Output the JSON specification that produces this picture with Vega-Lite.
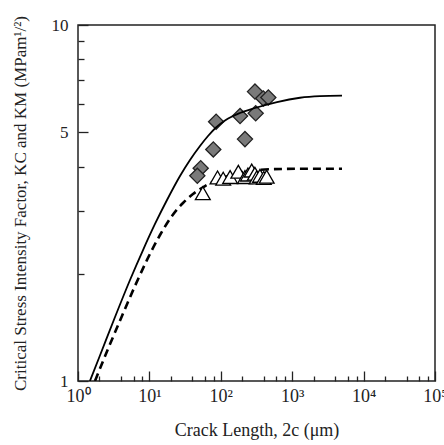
{
  "$schema": "https://vega.github.io/schema/vega-lite/v6.json",
  "autosize": {"type": "none"},
  "padding": {"left": 78, "top": 25, "right": 9, "bottom": 64},
  "width": 357,
  "height": 356,
  "background": "white",
  "config": {
    "view": {"stroke": "#222", "strokeWidth": 1.5},
    "font": "Liberation Serif"
  },
  "datasets": {
    "curves": [
      {"curve": "KC", "x": 1.47, "y": 1.0},
      {"curve": "KC", "x": 2.03, "y": 1.179},
      {"curve": "KC", "x": 3.3, "y": 1.513},
      {"curve": "KC", "x": 5.35, "y": 1.922},
      {"curve": "KC", "x": 8.14, "y": 2.333},
      {"curve": "KC", "x": 11.98, "y": 2.761},
      {"curve": "KC", "x": 17.64, "y": 3.224},
      {"curve": "KC", "x": 26.83, "y": 3.766},
      {"curve": "KC", "x": 37.04, "y": 4.176},
      {"curve": "KC", "x": 51.12, "y": 4.572},
      {"curve": "KC", "x": 66.2, "y": 4.878},
      {"curve": "KC", "x": 85.7, "y": 5.153},
      {"curve": "KC", "x": 114.5, "y": 5.391},
      {"curve": "KC", "x": 185.7, "y": 5.659},
      {"curve": "KC", "x": 301.3, "y": 5.846},
      {"curve": "KC", "x": 612.7, "y": 6.077},
      {"curve": "KC", "x": 1286, "y": 6.246},
      {"curve": "KC", "x": 2452, "y": 6.31},
      {"curve": "KC", "x": 4983, "y": 6.33},
      {"curve": "KM", "x": 1.73, "y": 1.0},
      {"curve": "KM", "x": 2.63, "y": 1.23},
      {"curve": "KM", "x": 4.13, "y": 1.523},
      {"curve": "KM", "x": 6.28, "y": 1.849},
      {"curve": "KM", "x": 9.26, "y": 2.188},
      {"curve": "KM", "x": 14.08, "y": 2.571},
      {"curve": "KM", "x": 20.72, "y": 2.908},
      {"curve": "KM", "x": 29.55, "y": 3.162},
      {"curve": "KM", "x": 40.8, "y": 3.352},
      {"curve": "KM", "x": 60.1, "y": 3.529},
      {"curve": "KM", "x": 97.5, "y": 3.694},
      {"curve": "KM", "x": 158.1, "y": 3.815},
      {"curve": "KM", "x": 256.5, "y": 3.89},
      {"curve": "KM", "x": 488.8, "y": 3.933},
      {"curve": "KM", "x": 1286, "y": 3.946},
      {"curve": "KM", "x": 4983, "y": 3.948}
    ],
    "points": [
      {"kind": "KC", "x": 301, "y": 6.5},
      {"kind": "KC", "x": 394, "y": 6.22},
      {"kind": "KC", "x": 463, "y": 6.26},
      {"kind": "KC", "x": 186, "y": 5.55},
      {"kind": "KC", "x": 308, "y": 5.65},
      {"kind": "KC", "x": 86, "y": 5.35},
      {"kind": "KC", "x": 218, "y": 4.78},
      {"kind": "KC", "x": 78.5, "y": 4.47},
      {"kind": "KC", "x": 52.3, "y": 3.96},
      {"kind": "KC", "x": 46.9, "y": 3.77},
      {"kind": "KM", "x": 56, "y": 3.37},
      {"kind": "KM", "x": 90, "y": 3.73},
      {"kind": "KM", "x": 108, "y": 3.7},
      {"kind": "KM", "x": 135, "y": 3.74},
      {"kind": "KM", "x": 176, "y": 3.87},
      {"kind": "KM", "x": 218, "y": 3.74},
      {"kind": "KM", "x": 240, "y": 3.8},
      {"kind": "KM", "x": 271, "y": 3.9},
      {"kind": "KM", "x": 300, "y": 3.82},
      {"kind": "KM", "x": 318, "y": 3.73},
      {"kind": "KM", "x": 354, "y": 3.77},
      {"kind": "KM", "x": 400, "y": 3.72},
      {"kind": "KM", "x": 439, "y": 3.75}
    ]
  },
  "layer": [
    {
      "data": {"name": "curves"},
      "transform": [{"filter": "datum.curve == 'KM'"}],
      "mark": {"type": "line", "color": "black", "strokeWidth": 2.6, "strokeDash": [8, 5], "clip": true, "interpolate": "monotone"},
      "encoding": {
        "x": {
          "field": "x", "type": "quantitative",
          "scale": {"type": "log", "domain": [1, 100000], "nice": false},
          "axis": {
            "title": "Crack Length, 2c (μm)",
            "titleFont": "Liberation Serif", "titleFontSize": 18, "titleFontWeight": "normal", "titleColor": "#222",
            "titlePadding": 11,
            "values": [1, 2, 4, 6, 8, 10, 20, 40, 60, 80, 100, 200, 400, 600, 800, 1000, 2000, 4000, 6000, 8000, 10000, 20000, 40000, 60000, 80000, 100000],
            "labelExpr": "datum.value == 1 ? '10⁰' : datum.value == 10 ? '10¹' : datum.value == 100 ? '10²' : datum.value == 1000 ? '10³' : datum.value == 10000 ? '10⁴' : datum.value == 100000 ? '10⁵' : ''",
            "labelFont": "Liberation Serif", "labelFontSize": 18, "labelColor": "#222",
            "labelFlush": false, "labelOverlap": false, "labelBound": false,
            "labelPadding": 16,
            "tickSize": {"condition": {"test": "indexof([1,10,100,1000,10000,100000], datum.value) >= 0", "value": -10}, "value": -5},
            "tickColor": "#222", "tickWidth": 1.3,
            "domain": false, "grid": false
          }
        },
        "y": {
          "field": "y", "type": "quantitative",
          "scale": {"type": "log", "domain": [1, 10], "nice": false},
          "axis": {
            "title": "Critical Stress Intensity Factor, KC and KM (MPam¹/²)",
            "titleFont": "Liberation Serif", "titleFontSize": 17, "titleFontWeight": "normal", "titleColor": "#222",
            "titlePadding": 22,
            "values": [1, 2, 3, 4, 5, 6, 7, 8, 9, 10],
            "labelExpr": "datum.value == 1 || datum.value == 5 || datum.value == 10 ? datum.label : ''",
            "labelFont": "Liberation Serif", "labelFontSize": 17, "labelColor": "#222",
            "labelFlush": false, "labelOverlap": false, "labelBound": false,
            "labelPadding": 20,
            "tickSize": {"condition": {"test": "datum.value == 1 || datum.value == 5 || datum.value == 10", "value": -10}, "value": -6},
            "tickColor": "#222", "tickWidth": 1.3,
            "domain": false, "grid": false
          }
        }
      }
    },
    {
      "data": {"name": "points"},
      "transform": [{"filter": "datum.kind == 'KM'"}],
      "mark": {"type": "point", "shape": "triangle-up", "filled": true, "fill": "white", "stroke": "black", "strokeWidth": 1.3, "size": 220, "opacity": 1},
      "encoding": {
        "x": {"field": "x", "type": "quantitative"},
        "y": {"field": "y", "type": "quantitative"}
      }
    },
    {
      "data": {"name": "points"},
      "transform": [{"filter": "datum.kind == 'KC'"}],
      "mark": {"type": "point", "shape": "diamond", "filled": true, "fill": "#7a7a7a", "stroke": "#222", "strokeWidth": 1.3, "size": 230, "opacity": 1},
      "encoding": {
        "x": {"field": "x", "type": "quantitative"},
        "y": {"field": "y", "type": "quantitative"}
      }
    },
    {
      "data": {"name": "curves"},
      "transform": [{"filter": "datum.curve == 'KC'"}],
      "mark": {"type": "line", "color": "black", "strokeWidth": 1.8, "clip": true, "interpolate": "monotone"},
      "encoding": {
        "x": {"field": "x", "type": "quantitative"},
        "y": {"field": "y", "type": "quantitative"}
      }
    }
  ]
}
